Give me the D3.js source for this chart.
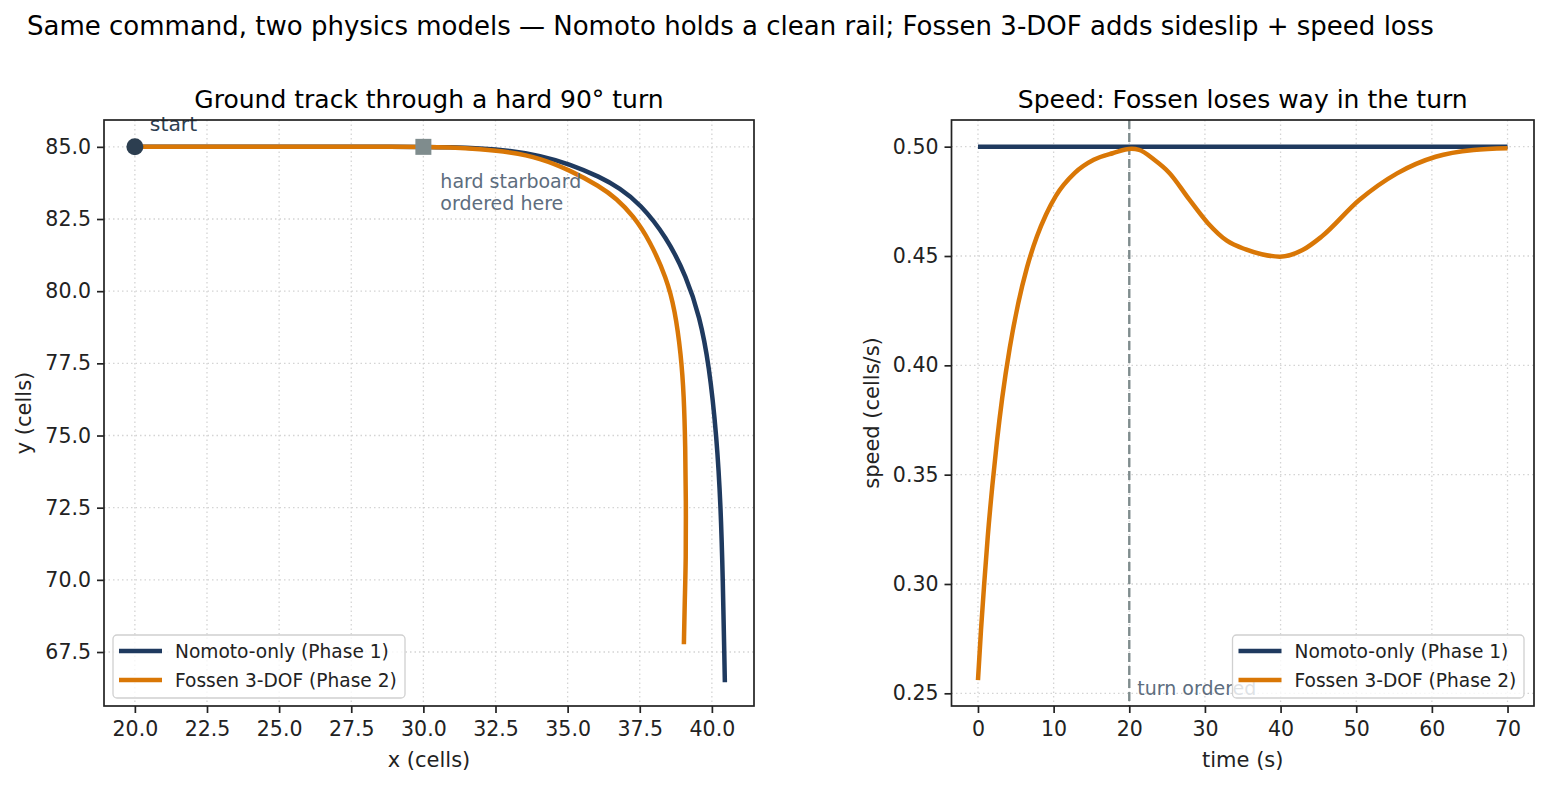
<!DOCTYPE html>
<html>
<head>
<meta charset="utf-8">
<script src="https://cdn.jsdelivr.net/npm/d3@7"></script>
<style>
  body { margin: 0; background: #fff; }
  text { font-family: "DejaVu Sans", sans-serif; }
</style>
</head>
<body>
<script>
// Dimensiones de la figura
const WIDTH = 1548;
const HEIGHT = 785;

const NAVY = "#1f3a5f";
const ORANGE = "#d97706";
const INK = "#222";

// Datos: trayectoria (x, y) de cada modelo
const nomotoX = [20, 24, 27, 29, 30, 30.92, 31.96, 33.0, 34.04, 35.08, 36.12, 36.81, 37.50, 38.43, 39.12, 39.58, 39.90, 40.17, 40.31, 40.38, 40.43, 40.45];
const nomotoY = [85, 85, 85, 85, 85, 84.99, 84.955, 84.87, 84.70, 84.40, 83.96, 83.57, 83.04, 81.88, 80.50, 79.11, 77.47, 74.94, 72.49, 69.99, 67.46, 66.45];
const fossenX = [20, 24, 27, 29, 30, 30.92, 31.96, 33.0, 34.04, 35.08, 36.12, 36.70, 37.27, 37.85, 38.43, 38.72, 38.93, 39.03, 39.08, 39.10, 39.10, 39.06, 39.03];
const fossenY = [85, 85, 85, 85, 85, 84.98, 84.92, 84.82, 84.61, 84.19, 83.63, 83.20, 82.62, 81.75, 80.45, 79.35, 77.80, 76.40, 74.60, 72.76, 70.68, 69.30, 67.77];

// Datos: velocidad en el tiempo
const nomotoT = [0, 70];
const nomotoV = [0.5, 0.5];
const fossenT = [0, 0.4, 0.8, 1.3, 1.9, 2.5, 3.2, 4.2, 5.3, 6.5, 7.8, 9, 10.3, 12.8, 15.3, 17.8, 20.3, 21.3, 23.3, 25.3, 27.9, 30.4, 32.9, 35.4, 37.5, 39.9, 42.9, 45.4, 50.4, 55.4, 60.5, 65.5, 70];
const fossenV = [0.256, 0.279, 0.299, 0.322, 0.345, 0.365, 0.385, 0.408, 0.428, 0.445, 0.459, 0.469, 0.4775, 0.488, 0.494, 0.497, 0.499, 0.4985, 0.494, 0.488, 0.476, 0.465, 0.457, 0.453, 0.4508, 0.4497, 0.4527, 0.4588, 0.4756, 0.4878, 0.4954, 0.4985, 0.4993];

// Ticks
const trackXTicks = [20, 22.5, 25, 27.5, 30, 32.5, 35, 37.5, 40];
const trackYTicks = [67.5, 70, 72.5, 75, 77.5, 80, 82.5, 85];
const speedXTicks = [0, 10, 20, 30, 40, 50, 60, 70];
const speedYTicks = [0.25, 0.30, 0.35, 0.40, 0.45, 0.50];

const legendLabels = ["Nomoto-only (Phase 1)", "Fossen 3-DOF (Phase 2)"];
const turnTime = 20;
const turnPoint = [30, 85];
const startPoint = [20, 85];

const svg = d3.select("body").append("svg")
  .attr("width", WIDTH)
  .attr("height", HEIGHT);

svg.append("text")
  .attr("x", 27).attr("y", 35)
  .attr("font-size", 26)
  .attr("fill", "#000")
  .text("Same command, two physics models — Nomoto holds a clean rail; Fossen 3-DOF adds sideslip + speed loss");

const zip = (a, b) => a.map((v, i) => [v, b[i]]);

// Dibuja un panel con ejes, grilla y título
function panel(box, xDomain, yDomain, xTicks, yTicks, xFmt, yFmt, title, xLabel, yLabel, yLabelX) {
  const x = d3.scaleLinear().domain(xDomain).range([box.left, box.right]);
  const y = d3.scaleLinear().domain(yDomain).range([box.bottom, box.top]);
  const g = svg.append("g");

  // grilla punteada
  g.append("g").selectAll("line").data(xTicks).join("line")
    .attr("x1", d => x(d)).attr("x2", d => x(d))
    .attr("y1", box.top).attr("y2", box.bottom)
    .attr("stroke", "#d4d4d4").attr("stroke-width", 1.3)
    .attr("stroke-dasharray", "1.5,3");
  g.append("g").selectAll("line").data(yTicks).join("line")
    .attr("y1", d => y(d)).attr("y2", d => y(d))
    .attr("x1", box.left).attr("x2", box.right)
    .attr("stroke", "#d4d4d4").attr("stroke-width", 1.3)
    .attr("stroke-dasharray", "1.5,3");

  const ax = g.append("g")
    .attr("transform", `translate(0,${box.bottom})`)
    .call(d3.axisBottom(x).tickValues(xTicks).tickFormat(d3.format(xFmt)).tickSize(7).tickPadding(8));
  const ay = g.append("g")
    .attr("transform", `translate(${box.left},0)`)
    .call(d3.axisLeft(y).tickValues(yTicks).tickFormat(d3.format(yFmt)).tickSize(7).tickPadding(6));
  [ax, ay].forEach(a => {
    a.select(".domain").remove();
    a.selectAll("line").attr("stroke", INK).attr("stroke-width", 1.7);
    a.selectAll("text").attr("font-size", 20.5).attr("fill", INK)
      .attr("font-family", "DejaVu Sans");
  });

  g.append("text")
    .attr("x", (box.left + box.right) / 2).attr("y", 108)
    .attr("text-anchor", "middle").attr("font-size", 25)
    .text(title);
  g.append("text")
    .attr("x", (box.left + box.right) / 2).attr("y", 767)
    .attr("text-anchor", "middle").attr("font-size", 21).attr("fill", INK)
    .text(xLabel);
  g.append("text")
    .attr("transform", `translate(${yLabelX},${(box.top + box.bottom) / 2}) rotate(-90)`)
    .attr("text-anchor", "middle").attr("font-size", 21).attr("fill", INK)
    .text(yLabel);

  const plot = svg.append("g");
  return { x, y, g, plot, box };
}

function frame(p) {
  const b = p.box;
  svg.append("rect")
    .attr("x", b.left).attr("y", b.top)
    .attr("width", b.right - b.left).attr("height", b.bottom - b.top)
    .attr("fill", "none").attr("stroke", INK).attr("stroke-width", 1.7);
}

function legend(x0, y0, w) {
  const g = svg.append("g").attr("transform", `translate(${x0},${y0})`);
  g.append("rect").attr("width", w).attr("height", 63).attr("rx", 4)
    .attr("fill", "#fff").attr("fill-opacity", 0.8)
    .attr("stroke", "#d0d0d0").attr("stroke-width", 1.3);
  [NAVY, ORANGE].forEach((c, i) => {
    g.append("line").attr("x1", 6).attr("x2", 49)
      .attr("y1", 16 + i * 29).attr("y2", 16 + i * 29)
      .attr("stroke", c).attr("stroke-width", 4.5);
    g.append("text").attr("x", 62).attr("y", 16 + i * 29)
      .attr("dy", "0.35em").attr("font-size", 18.6).attr("fill", INK)
      .text(legendLabels[i]);
  });
}

// ---------- Panel izquierdo: trayectoria ----------
const left = panel({ left: 104, right: 754, top: 120, bottom: 706 },
  [18.93, 41.46], [65.63, 85.93], trackXTicks, trackYTicks, ".1f", ".1f",
  "Ground track through a hard 90° turn", "x (cells)", "y (cells)", 31);

// curva suavizada (B-spline) para la trayectoria
const lineTrack = d3.line().x(d => left.x(d[0])).y(d => left.y(d[1])).curve(d3.curveBasis);
left.plot.append("path").datum(zip(nomotoX, nomotoY))
  .attr("d", lineTrack).attr("fill", "none").attr("stroke", NAVY).attr("stroke-width", 4.5);
left.plot.append("path").datum(zip(fossenX, fossenY))
  .attr("d", lineTrack).attr("fill", "none").attr("stroke", ORANGE).attr("stroke-width", 4.5);

left.plot.append("circle")
  .attr("cx", left.x(startPoint[0])).attr("cy", left.y(startPoint[1])).attr("r", 8.5)
  .attr("fill", "#2c3e50");
left.plot.append("rect")
  .attr("x", left.x(turnPoint[0]) - 8).attr("y", left.y(turnPoint[1]) - 8)
  .attr("width", 16).attr("height", 16).attr("fill", "#7f8c8d");

left.plot.append("text")
  .attr("x", left.x(startPoint[0]) + 15).attr("y", left.y(startPoint[1]) - 16)
  .attr("font-size", 20.3).attr("fill", "#2c3e50").text("start");
left.plot.append("text")
  .attr("x", left.x(turnPoint[0]) + 17).attr("y", left.y(turnPoint[1]) + 41)
  .attr("font-size", 19).attr("fill", "#5d6d7e").text("hard starboard");
left.plot.append("text")
  .attr("x", left.x(turnPoint[0]) + 17).attr("y", left.y(turnPoint[1]) + 63)
  .attr("font-size", 19).attr("fill", "#5d6d7e").text("ordered here");

frame(left);
legend(113, 635, 292);

// ---------- Panel derecho: velocidad ----------
const right = panel({ left: 951.5, right: 1534, top: 120, bottom: 706 },
  [-3.5, 73.5], [0.2442, 0.5122], speedXTicks, speedYTicks, "d", ".2f",
  "Speed: Fossen loses way in the turn", "time (s)", "speed (cells/s)", 879);

right.plot.append("line")
  .attr("x1", right.x(turnTime)).attr("x2", right.x(turnTime))
  .attr("y1", 120).attr("y2", 706)
  .attr("stroke", "#7f8c8d").attr("stroke-width", 2.4)
  .attr("stroke-dasharray", "9,4");
right.plot.append("text")
  .attr("x", right.x(turnTime) + 8).attr("y", 695)
  .attr("font-size", 19).attr("fill", "#5d6d7e").text("turn ordered");

const lineSpeed = d3.line().x(d => right.x(d[0])).y(d => right.y(d[1])).curve(d3.curveMonotoneX);
right.plot.append("path").datum(zip(nomotoT, nomotoV))
  .attr("d", lineSpeed).attr("fill", "none").attr("stroke", NAVY).attr("stroke-width", 4.5);
right.plot.append("path").datum(zip(fossenT, fossenV))
  .attr("d", lineSpeed).attr("fill", "none").attr("stroke", ORANGE).attr("stroke-width", 4.5);

frame(right);
legend(1232.5, 635, 291.5);
</script>
</body>
</html>
